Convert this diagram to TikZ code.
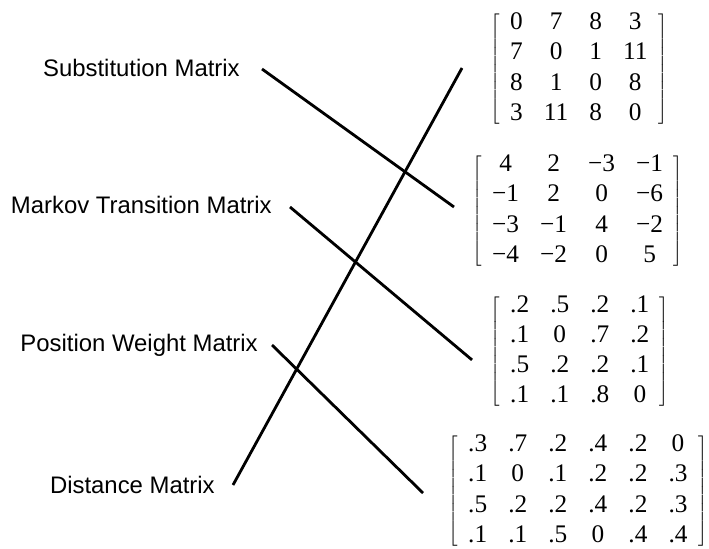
\documentclass[tikz,border=0pt]{standalone}
\usepackage{fontspec}
\setmainfont{Liberation Serif}
\setsansfont{Liberation Sans}
\newfontfamily\matfont{Liberation Serif}
\usepackage{tikz}

\begin{document}
\begin{tikzpicture}
    \useasboundingbox (0, 0) rectangle (17.725, 13.7);
    \begin{scope}[every node/.style = {anchor=base east, inner sep=0pt,
        font=\sffamily\fontsize{17}{20}\selectfont}]
      \node (substitution) at (6.0,  11.775) {Substitution Matrix};
      \node (markov)       at (6.8,  8.375)  {Markov Transition Matrix};
      \node (position)     at (6.45, 4.925)  {Position Weight Matrix};
      \node (distance)     at (5.375, 1.375) {Distance Matrix};
    \end{scope}
    \begin{scope}[every node/.style = {anchor=west, inner sep=0pt,
        font=\matfont\fontsize{18}{21.5}\selectfont}]
      \setlength{\tabcolsep}{7.5pt}
      \delimitershortfall=12pt
      \node (symMatrix) at (12.25, 11.975) {$\left[\begin{tabular}{cccc}
          0 & 7 & 8 & 3\\ 7 & 0 & 1 & 11\\ 8 & 1 & 0 & 8\\ 3 & 11 & 8 & 0
        \end{tabular}\right]$};
      \node (logMatrix) at (11.8, 8.425) {$\left[\begin{tabular}{cccc}
          4 & 2 & −3 & −1\\ −1 & 2 & 0 & −6\\ −3 & −1 & 4 & −2\\ −4 & −2 & 0 & 5
        \end{tabular}\right]$};
      \node (rowMatrix) at (12.25, 4.9125) {$\left[\begin{tabular}{cccc}
          .2 & .5 & .2 & .1\\ .1 & 0 & .7 & .2\\ .5 & .2 & .2 & .1\\ .1 & .1 & .8 & 0
        \end{tabular}\right]$};
      \node (colMatrix) at (11.2, 1.425) {$\left[\begin{tabular}{cccccc}
          .3 & .7 & .2 & .4 & .2 & 0\\ .1 & 0 & .1 & .2 & .2 & .3\\
          .5 & .2 & .2 & .4 & .2 & .3\\ .1 & .1 & .5 & 0 & .4 & .4
        \end{tabular}\right]$};
    \end{scope}
    \begin{scope}[line width=2pt]
      \draw ([xshift=0.55cm, yshift=0.2cm]substitution.base east)
        to ([xshift=-0.45cm, yshift=0.1cm]logMatrix.west);
      \draw ([xshift=0.45cm, yshift=0.15cm]markov.base east)
        to ([xshift=-0.45cm, yshift=-0.21cm]rowMatrix.west);
      \draw ([xshift=0.35cm, yshift=0.15cm]position.base east)
        to ([xshift=-0.625cm, yshift=-0.05cm]colMatrix.west);
      \draw ([xshift=0.45cm, yshift=0.2cm]distance.base east)
        to ([xshift=-0.7cm, yshift=0.025cm]symMatrix.west);
    \end{scope}
\end{tikzpicture}
\end{document}
